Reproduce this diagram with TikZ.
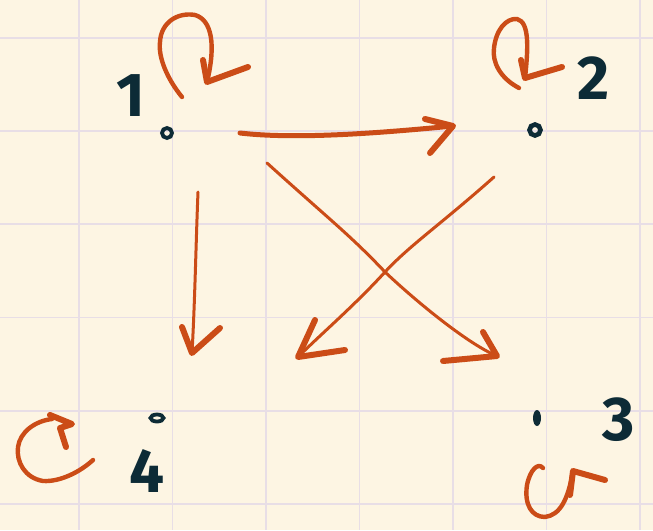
\documentclass[tikz,border=0pt]{standalone}
\usepackage{fontspec}
\setmainfont{Fira Sans}
\usetikzlibrary{shapes.geometric}
\definecolor{paper}{HTML}{FDF5E3}
\definecolor{gridc}{HTML}{E8DEE6}
\definecolor{ink}{HTML}{CB4C17}
\definecolor{dark}{HTML}{0D2B36}
\begin{document}
\begin{tikzpicture}[x=1pt,y=-1pt,
  gridline/.style={draw=gridc, line width=1.8pt},
  stroke/.style={draw=ink, line cap=round, line join=round},
  loopline/.style={stroke, line width=4.4pt},
  thinline/.style={stroke, line width=3pt},
  thickline/.style={stroke, line width=5pt},
  barb/.style={stroke, line width=6pt},
  lab/.style={text=dark, inner sep=0pt, font=\fontsize{62}{62}\selectfont\bfseries},
  vtx/.style={draw=dark, line width=3.8pt, circle, inner sep=0pt, minimum size=10pt}]
\fill[paper] (0,0) rectangle (653,530);
\useasboundingbox (0,0) rectangle (653,530);
\foreach \x in {79,172.5,266,359.5,453,546.5,640} \draw[gridline] (\x,0) -- (\x,530);
\foreach \y in {38,131,224,317.5,411,504} \draw[gridline] (0,\y) -- (653,\y);

% vertices
\node[vtx] (n1) at (167,133) {};
\node[vtx, line width=4.6pt, minimum size=11pt] (n2) at (535,130) {};
\node[vtx, ellipse, minimum width=13pt, minimum height=7pt] (n4) at (157,418) {};
\node[ellipse, fill=dark, inner sep=0pt, minimum width=8pt, minimum height=16pt] (n3) at (537,418) {};

% labels
\node[lab] (l1) at (131,96) {1};
\node[lab] (l2) at (594,78) {2};
\node[lab] (l3) at (619,420) {3};
\node[lab] (l4) at (147,471) {4};

% arrow end points
\coordinate (s12) at (240,133); \coordinate (t12) at (453,126);
\coordinate (s14) at (198,192); \coordinate (t14) at (192,353);
\coordinate (s13) at (267,163); \coordinate (t13) at (497,356);
\coordinate (s24) at (494,177); \coordinate (t24) at (298,357);
\coordinate (x) at (385,272);

% 1 -> 2
\draw[thickline] (s12) .. controls (300,140) and (390,132) .. (t12);
\draw[barb] (425,119) -- (t12) -- (430,153);
% 1 -> 4
\draw[thinline] (s14) .. controls (196,240) and (195,300) .. (t14);
\draw[barb] (182,327) -- (t14) -- (220,328);
% 1 -> 3
\draw[thinline] (s13) .. controls (330,220) and (350,235) .. (x) .. controls (420,305) and (470,345) .. (t13);
\draw[barb] (483,332) -- (t13) -- (443,361);
% 2 -> 4
\draw[thinline] (s24) .. controls (440,225) and (410,245) .. (x) .. controls (355,305) and (320,335) .. (t24);
\draw[barb] (315,320) -- (t24) -- (345,350);

% self loops
\coordinate (e1) at (207,82);
\draw[loopline] (182,97) .. controls (168,80) and (158,58) .. (160,42) .. controls (161,22) and (178,12) .. (195,15) .. controls (212,20) and (216,45) .. (e1);
\draw[barb] (203,60) -- (e1) -- (248,67);

\coordinate (e2) at (525,78);
\draw[loopline] (519,88) .. controls (500,78) and (492,62) .. (494,48) .. controls (496,30) and (506,18) .. (517,19) .. controls (530,22) and (528,50) .. (e2);
\draw[barb] (521,60) -- (e2) -- (562,67);

\coordinate (e4) at (72,424);
\draw[loopline] (93,460) .. controls (80,472) and (60,482) .. (43,481) .. controls (25,478) and (16,462) .. (18,447) .. controls (20,432) and (35,421) .. (52,419);
\draw[barb] (50,415) -- (e4) -- (60,428) -- (66,447);

\coordinate (e3) at (573,471);
\draw[loopline] (543,468) .. controls (538,462) and (530,470) .. (527,485) .. controls (524,505) and (532,517) .. (545,517) .. controls (560,515) and (568,500) .. (e3);
\draw[barb] (570,495) -- (e3) -- (605,480);
\end{tikzpicture}
\end{document}
